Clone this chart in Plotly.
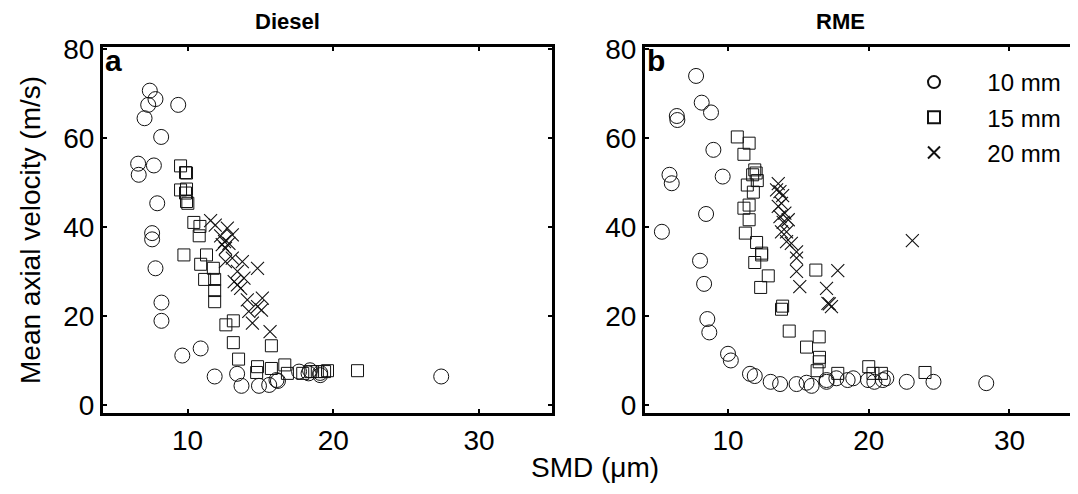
import plotly.graph_objs as go

# ---- Diesel (panel a) ----
diesel_10_smd = [7.41, 7.8, 7.3, 7.05, 9.36, 8.19, 6.61, 7.69, 6.65, 7.92, 7.57, 7.57, 7.8,
                 8.21, 8.21, 9.64, 10.9, 11.86, 13.4, 13.7, 14.9, 15.6, 16.1, 16.2, 17.65,
                 18.3, 18.4, 19.1, 19.1, 27.4]
diesel_10_vel = [70.6, 68.7, 67.4, 64.4, 67.4, 60.2, 54.2, 53.8, 51.7, 45.3, 38.6, 37.2, 30.7,
                 23.0, 18.9, 11.1, 12.7, 6.4, 7.0, 4.3, 4.3, 4.5, 5.6, 5.4, 7.5,
                 7.1, 7.8, 7.2, 6.7, 6.4]

diesel_15_smd = [9.52, 9.86, 9.93, 9.52, 9.93, 9.86, 10.02, 9.93, 10.43, 10.85, 10.8, 9.75,
                 11.3, 10.9, 11.77, 11.17, 11.86, 11.86, 11.86, 13.14, 12.63, 13.14, 13.5,
                 15.75, 14.8, 15.75, 16.67, 14.74, 16.85, 17.9, 18.45, 18.9, 19.4, 19.6, 21.66]
diesel_15_vel = [53.7, 52.2, 52.1, 48.3, 48.5, 47.6, 45.3, 45.7, 41.0, 40.1, 38.0, 33.7,
                 33.7, 31.6, 30.7, 28.2, 28.2, 25.7, 23.2, 18.9, 18.0, 14.0, 10.3,
                 13.3, 8.6, 8.2, 9.0, 7.3, 7.1, 7.1, 7.5, 7.5, 7.5, 7.7, 7.7]

diesel_20_smd = [11.58, 11.9, 12.73, 13.07, 12.27, 12.54, 12.38, 12.6, 12.84, 13.07, 13.76,
                 14.8, 12.6, 13.42, 13.87, 13.2, 13.64, 13.42, 14.1, 15.13, 14.8, 14.2,
                 15.07, 14.45, 15.66]
diesel_20_vel = [41.4, 40.4, 39.7, 38.2, 38.0, 36.7, 36.0, 35.2, 36.3, 33.0, 32.2,
                 30.7, 32.2, 30.0, 28.5, 27.7, 26.2, 27.0, 23.6, 24.0, 22.1, 21.0,
                 21.3, 18.4, 16.5]

# ---- RME (panel b) ----
rme_10_smd = [7.73, 8.13, 8.79, 6.36, 6.4, 8.96, 5.84, 6.0, 9.62, 8.44, 5.3, 8.01, 8.3,
              8.53, 8.67, 10.0, 10.2, 11.56, 11.9, 13.03, 13.7, 14.87, 15.58, 15.94,
              17.0, 17.0, 17.7, 18.5, 18.9, 19.95, 20.4, 21.0, 21.25, 22.7, 24.6, 28.35]
rme_10_vel = [73.9, 67.9, 65.7, 64.9, 64.0, 57.3, 51.7, 49.8, 51.3, 42.9, 38.9, 32.4, 27.2,
              19.3, 16.3, 11.5, 10.0, 7.0, 6.5, 5.2, 4.7, 4.7, 5.0, 4.3,
              5.2, 5.6, 6.0, 5.6, 6.0, 5.6, 5.2, 5.6, 6.0, 5.2, 5.2, 4.9]

rme_15_smd = [10.66, 11.5, 11.13, 11.9, 12.0, 11.75, 12.08, 11.37, 11.8, 11.5, 11.13, 11.5,
              11.23, 12.03, 12.39, 12.39, 11.9, 12.86, 12.32, 13.88, 13.8, 14.35, 16.24,
              15.58, 16.48, 16.5, 16.48, 16.33, 17.8, 20.0, 20.3, 20.9, 24.0]
rme_15_vel = [60.2, 58.8, 56.3, 52.8, 52.1, 51.7, 50.4, 49.4, 47.8, 44.9, 44.2, 41.6,
              38.6, 36.5, 34.1, 33.7, 32.0, 29.0, 26.4, 22.2, 21.5, 16.6, 30.3,
              13.0, 15.3, 10.7, 9.7, 7.7, 7.1, 8.6, 7.1, 7.1, 7.3]

rme_20_smd = [13.57, 13.69, 13.88, 13.45, 13.8, 13.57, 14.04, 13.69, 14.28, 13.92, 14.16,
              13.8, 14.16, 14.5, 14.87, 14.87, 14.87, 15.1, 17.0, 17.1, 23.1, 17.8,
              17.2, 17.35]
rme_20_vel = [49.7, 47.9, 47.0, 48.3, 45.3, 44.6, 43.1, 42.3, 41.6, 41.0, 38.9,
              38.9, 36.7, 36.3, 34.4, 33.0, 30.0, 26.6, 26.2, 22.8, 36.9, 30.2,
              22.7, 22.1]

series_names = ["10 mm", "15 mm", "20 mm"]
panel_titles = ["Diesel", "RME"]
panel_tags = ["a", "b"]
x_ticks = [10, 20, 30]
y_ticks = [0, 20, 40, 60, 80]

FONT = "Liberation Sans, Arial, Helvetica, sans-serif"
INK = "#111111"
W, H = 1070, 486   # page has an 8px body margin

styles = [
    dict(symbol="circle-open", size=15, line=dict(width=1, color=INK), color=INK),
    dict(symbol="square-open", size=12, line=dict(width=1, color=INK), color=INK),
    dict(symbol="x-thin-open", size=13, line=dict(width=1.1, color=INK), color=INK),
]

panels = [
    ("x", "y", [(diesel_10_smd, diesel_10_vel), (diesel_15_smd, diesel_15_vel),
                (diesel_20_smd, diesel_20_vel)]),
    ("x2", "y2", [(rme_10_smd, rme_10_vel), (rme_15_smd, rme_15_vel),
                  (rme_20_smd, rme_20_vel)]),
]

fig = go.Figure()
for p, (xa, ya, sets) in enumerate(panels):
    for i, (xs, ys) in enumerate(sets):
        fig.add_trace(go.Scatter(
            x=xs, y=ys, mode="markers", xaxis=xa, yaxis=ya,
            name="\u00a0" * 5 + series_names[i], legendgroup=series_names[i],
            showlegend=(p == 1), marker=styles[i],
        ))

ax_common = dict(
    showgrid=False, zeroline=False, showline=True, linewidth=3, linecolor="black",
    mirror="ticks", ticks="inside", ticklen=4, tickwidth=2, tickcolor="black",
    automargin=False,
    tickfont=dict(family=FONT, size=28, color="black"),
)

ydom = [1 - 405 / H, 1 - 39 / H]

fig.update_layout(
    width=W, height=H,
    margin=dict(l=0, r=0, t=0, b=0, autoexpand=False),
    paper_bgcolor="white", plot_bgcolor="white",
    font=dict(family=FONT, color="black"),
    xaxis=dict(domain=[95 / W, 544 / W], range=[4.2, 35], tickvals=x_ticks, anchor="y", **ax_common),
    yaxis=dict(domain=ydom, range=[-1.8, 80.4], tickvals=y_ticks, anchor="x", **ax_common),
    xaxis2=dict(domain=[637 / W, 1069 / W], range=[4.1, 34.8], tickvals=x_ticks, anchor="y2", **ax_common),
    yaxis2=dict(domain=ydom, range=[-1.8, 80.4], tickvals=y_ticks, anchor="x2", **ax_common),
    legend=dict(x=906 / W, y=1 - 52 / H, xanchor="left", yanchor="top", bgcolor="rgba(0,0,0,0)",
                font=dict(family=FONT, size=24), itemsizing="constant", tracegroupgap=1),
    showlegend=True,
)

annos = [
    dict(text="<b>%s</b>" % panel_titles[0], x=279 / W, y=1, xref="paper", yref="paper",
         xanchor="center", yanchor="top", borderpad=0, showarrow=False, font=dict(size=22)),
    dict(text="<b>%s</b>" % panel_titles[1], x=832 / W, y=1, xref="paper", yref="paper",
         xanchor="center", yanchor="top", borderpad=0, showarrow=False, font=dict(size=22)),
    dict(text="<b>%s</b>" % panel_tags[0], x=0.0, y=1.014, xref="x domain", yref="y domain",
         xanchor="left", yanchor="top", showarrow=False, font=dict(size=30)),
    dict(text="<b>%s</b>" % panel_tags[1], x=0.0, y=1.014, xref="x2 domain", yref="y2 domain",
         xanchor="left", yanchor="top", showarrow=False, font=dict(size=30)),
    dict(text="Mean axial velocity (m/s)", x=22 / W, y=1 - 222 / H, xref="paper", yref="paper",
         xanchor="center", yanchor="middle", textangle=-90, showarrow=False, font=dict(size=28)),
    dict(text="SMD (\u03bcm)", x=587 / W, y=1 - 459 / H, xref="paper", yref="paper",
         xanchor="center", yanchor="middle", showarrow=False, font=dict(size=28)),
]
fig.update_layout(annotations=annos)

fig.write_html("out.html")
